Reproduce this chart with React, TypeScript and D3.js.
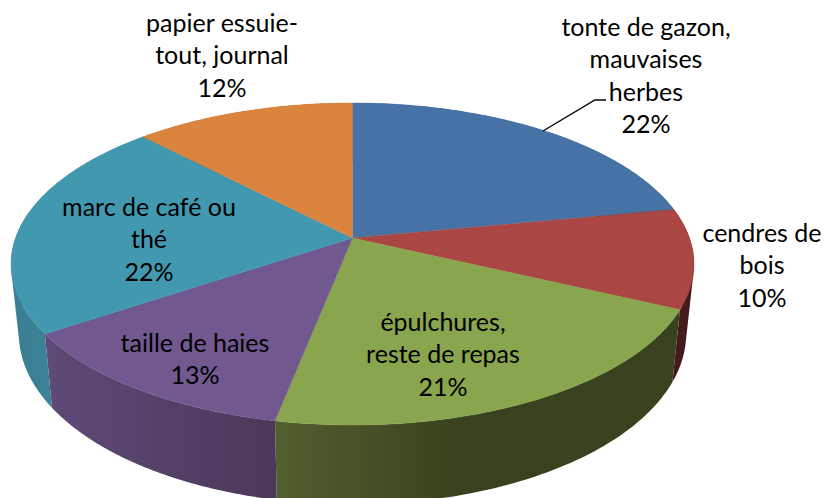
import React from "react";
import * as d3 from "d3";

const categories = ["tonte de gazon, mauvaises herbes", "cendres de bois", "épulchures, reste de repas", "taille de haies", "marc de café ou thé", "papier essuie-tout, journal"];
const values = [22, 10, 21.1, 12.5, 22.2, 12.2];
const topColors = ["#4672a6", "#aa4644", "#89a54e", "#71588f", "#4198af", "#db843d"];
const sideLeft = ["#2f4d70", "#451a1a", "#525f2e", "#5f4a78", "#3a7f93", "#94592a"];
const sideRight = ["#2f4d70", "#451a1a", "#38421e", "#4a3959", "#3f8aa0", "#94592a"];
const sideFade = [1, 1, 0.45, 1, 1, 1];
const labelLines = [
  ["tonte de gazon,", "mauvaises", "herbes", "22%"],
  ["cendres de", "bois", "10%"],
  ["épulchures,", "reste de repas", "21%"],
  ["taille de haies", "13%"],
  ["marc de café ou", "thé", "22%"],
  ["papier essuie-", "tout, journal", "12%"],
];
const labelAnchors = [[646, 36], [762, 242], [443, 331], [195, 352], [149, 216], [222, 32]];
const leader = [[543, 131], [595, 100], [606, 100]];

const W = 825, H = 498;
const CX = 352.5, CY = 238, D = 337, A = -118.4, P = 0.1615;

// plane (unit disc) -> screen, with the perspective of the tilted pie
function top(t: number): [number, number] {
  const u = Math.sin(t), v = Math.cos(t), w = 1 + P * v;
  return [CX + (D * u) / w, (A * v + CY) / w];
}
function bottom(t: number): [number, number] {
  const [x, y] = top(t);
  return [CX + 0.977 * (x - CX), y + 73 + (y - 320) * 0.06];
}

const pie = d3.pie<number>().sort(null).startAngle(0).endAngle(2 * Math.PI);
const arcs = pie(values);
const line = d3.line();

function samples(a: number, b: number, n = 80): number[] {
  return d3.range(n + 1).map((i) => a + ((b - a) * i) / n);
}

// one path made of same-wound quads, so the wall stays solid where it folds at the pie's sides
function wall(ts: number[]): string {
  let d = "";
  for (let k = 0; k < ts.length - 1; k++) {
    const quad: [number, number][] = [top(ts[k]), top(ts[k + 1]), bottom(ts[k + 1]), bottom(ts[k])];
    if (d3.polygonArea(quad) < 0) quad.reverse();
    d += line(quad) + "Z";
  }
  return d;
}

export default function App() {
  return (
    <svg width={W} height={H} viewBox={`0 0 ${W} ${H}`} style={{ position: "absolute", left: 0, top: 0, background: "#fff" }}>
      <defs>
        {arcs.map((arc, i) => {
          const xs = samples(arc.startAngle, arc.endAngle).map((t) => top(t)[0]);
          return (
            <linearGradient key={i} id={`side${i}`} gradientUnits="userSpaceOnUse" x1={d3.min(xs)} x2={d3.max(xs)} y1={0} y2={0}>
              <stop offset="0" stopColor={sideLeft[i]} />
              <stop offset={sideFade[i]} stopColor={sideRight[i]} />
            </linearGradient>
          );
        })}
      </defs>
      <g>
        {arcs.map((arc, i) => (
          <path key={i} d={wall(samples(arc.startAngle, arc.endAngle))} fill={`url(#side${i})`} />
        ))}
      </g>
      <g>
        {arcs.map((arc, i) => {
          const pts = samples(arc.startAngle, arc.endAngle).map(top);
          return <path key={categories[i]} d={line([[CX, CY], ...pts])! + "Z"} fill={topColors[i]} stroke={topColors[i]} strokeWidth={0.4} />;
        })}
      </g>
      <path d={line(leader as [number, number][])!} fill="none" stroke="#000" strokeWidth={1.4} />
      <g fontFamily="Lato" fontSize={25} textAnchor="middle" fill="#000">
        {labelLines.map((ls, i) => (
          <text key={i} x={labelAnchors[i][0]} y={labelAnchors[i][1]}>
            {ls.map((l, j) => (
              <tspan key={j} x={labelAnchors[i][0]} y={labelAnchors[i][1] + j * 32.3}>{l}</tspan>
            ))}
          </text>
        ))}
      </g>
    </svg>
  );
}
